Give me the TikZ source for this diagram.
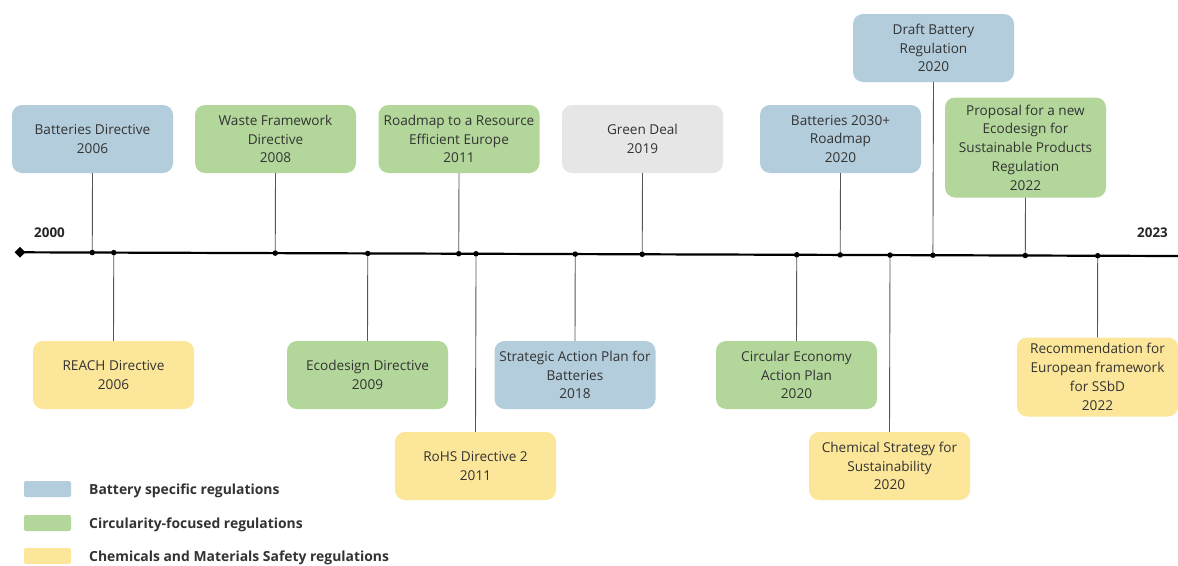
\documentclass[tikz,border=0pt]{standalone}
\usepackage{fontspec}
\setmainfont{Open Sans}
\usetikzlibrary{calc,shapes.geometric}
\definecolor{cblue}{HTML}{B4CDDC}
\definecolor{cgreen}{HTML}{B3D79B}
\definecolor{cyellow}{HTML}{FCE699}
\definecolor{cgrey}{HTML}{E6E6E6}
\definecolor{ctext}{HTML}{333333}
\definecolor{cline}{HTML}{555555}
\begin{document}
\begin{tikzpicture}[x=1pt,y=-1pt,
  evbox/.style={rectangle, rounded corners=10pt, minimum width=161pt, minimum height=68pt,
    align=center, text=ctext, font=\fontsize{13.6}{18.8}\selectfont, inner sep=0pt},
  bbox/.style={evbox, fill=cblue},
  gbox/.style={evbox, fill=cgreen},
  ybox/.style={evbox, fill=cyellow},
  greybox/.style={evbox, fill=cgrey},
  stem/.style={draw=cline, line width=0.9pt},
  tick/.style={circle, fill=black, inner sep=0pt, minimum size=5.5pt},
  yearlbl/.style={font=\bfseries\fontsize{13.4}{14}\selectfont, text=black!85},
  swatch/.style={rectangle, rounded corners=2pt, minimum width=47pt, minimum height=16pt, inner sep=0pt},
  leglbl/.style={font=\bfseries\fontsize{13.9}{16}\selectfont, text=ctext, anchor=west, inner sep=0pt}
]
\useasboundingbox (0,0) rectangle (1178,565);
\fill[white] (0,0) rectangle (1178,565);

% timeline
\coordinate (tl) at (20,252.3);
\coordinate (tr) at (1178,256);
\draw[line width=2.2pt, black] (tl) -- (tr);
\node[diamond, fill=black, inner sep=0pt, minimum width=11pt, minimum height=11pt] (dia) at (tl) {};
\node[yearlbl] (y2000) at (49.5,233) {2000};
\node[yearlbl] (y2023) at (1152.5,233) {2023};

% boxes
\node[bbox] (b1) at (92.5,139) {Batteries Directive\\2006};
\node[ybox] (b2) at (113.5,375) {REACH Directive\\2006};
\node[gbox] (b3) at (275.5,139) {Waste Framework\\Directive\\2008};
\node[gbox] (b4) at (367.5,375) {Ecodesign Directive\\2009};
\node[gbox] (b5) at (459,139) {Roadmap to a Resource\\Efficient Europe\\2011};
\node[ybox] (b6) at (475.5,466) {RoHS Directive 2\\2011};
\node[bbox] (b7) at (575,375) {Strategic Action Plan for\\Batteries\\2018};
\node[greybox] (b8) at (642.5,139) {Green Deal\\2019};
\node[bbox] (b9) at (840.5,139) {Batteries 2030+\\Roadmap\\2020};
\node[gbox] (b10) at (796.5,375) {Circular Economy\\Action Plan\\2020};
\node[bbox] (b11) at (933.5,48) {Draft Battery\\Regulation\\2020};
\node[ybox] (b12) at (889.5,466) {Chemical Strategy for\\Sustainability\\2020};
\node[gbox, minimum height=100pt] (b13) at (1025.5,147.5) {Proposal for a new\\Ecodesign for\\Sustainable Products\\Regulation\\2022};
\node[ybox, minimum height=79pt] (b14) at (1097.5,377) {Recommendation for\\European framework\\for SSbD\\2022};

% stems and ticks
\foreach \b/\a in {b1/south,b3/south,b5/south,b8/south,b9/south,b11/south,b13/south,
                   b2/north,b4/north,b6/north,b7/north,b10/north,b12/north,b14/north} {
  \coordinate (p\b) at ($(tl)!(\b.\a)!(tr)$);
  \draw[stem] (\b.\a) -- (p\b);
  \node[tick] (t\b) at (p\b) {};
}

% legend
\node[swatch, fill=cblue] (s1) at (47.5,489) {};
\node[swatch, fill=cgreen] (s2) at (47.5,523) {};
\node[swatch, fill=cyellow] (s3) at (47.5,556) {};
\node[leglbl] (l1) at (89,490.5) {Battery specific regulations};
\node[leglbl] (l2) at (89,524.5) {Circularity-focused regulations};
\node[leglbl] (l3) at (89,557.5) {Chemicals and Materials Safety regulations};
\end{tikzpicture}
\end{document}
